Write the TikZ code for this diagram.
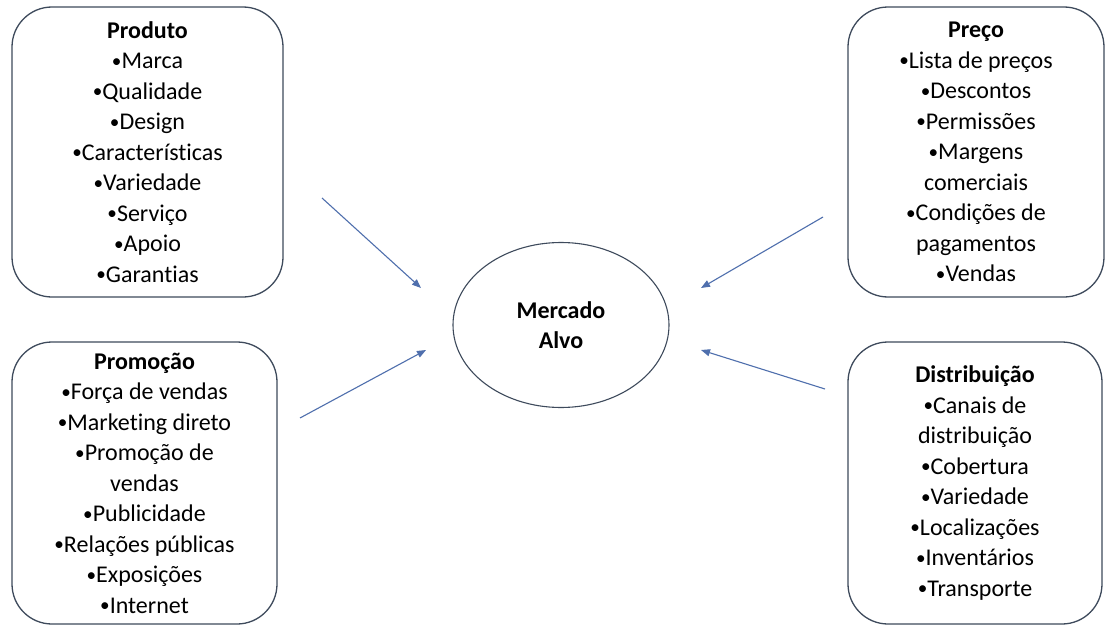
\documentclass[tikz,border=0pt]{standalone}
\usepackage{fontspec}
\setmainfont{Carlito}[Ligatures=NoCommon]
\usetikzlibrary{arrows.meta,shapes.geometric}
\definecolor{boxline}{HTML}{3E4A5C}
\definecolor{arrowblue}{HTML}{4F6FAD}
% small list bullet
\newcommand{\bul}{\raisebox{0.12ex}{\scalebox{0.8}{•}}}
\begin{document}
\begin{tikzpicture}[x=1pt,y=-1pt,
  mixbox/.style={draw=boxline, line width=1.3pt, rounded corners=40pt,
    align=center, inner sep=0pt, text=black,
    font=\fontsize{24}{30.5}\selectfont},
  target/.style={draw=boxline, line width=1.1pt, ellipse, inner sep=0pt,
    minimum width=216pt, minimum height=165pt, align=center,
    font=\fontsize{24}{30}\selectfont\bfseries},
  feed/.style={draw=arrowblue, line width=1.1pt,
    -{Triangle[length=9pt,width=7pt]}}]
  % canvas
  \fill[white] (0,0) rectangle (1106,626);
  \useasboundingbox (0,0) rectangle (1106,626);

  % the four marketing-mix boxes
  \node[mixbox, minimum width=271pt, minimum height=290pt] (prod) at (147.5,152)
    {\textbf{Produto}\\\bul Marca\\\bul Qualidade\\\bul Design\\\bul Características\\\bul Variedade\\\bul Serviço\\\bul Apoio\\\bul Garantias};
  \node[mixbox, minimum width=256pt, minimum height=290pt] (preco) at (976,152)
    {\textbf{Preço}\\\bul Lista de preços\\\bul Descontos\\\bul Permissões\\\bul Margens\\comerciais\\\bul Condições de\\pagamentos\\\bul Vendas};
  \node[mixbox, minimum width=265pt, minimum height=282pt] (promo) at (144.5,483)
    {\textbf{Promoção}\\\bul Força de vendas\\\bul Marketing direto\\\bul Promoção de\\vendas\\\bul Publicidade\\\bul Relações públicas\\\bul Exposições\\\bul Internet};
  \node[mixbox, minimum width=254pt, minimum height=282pt] (dist) at (975,483)
    {\textbf{Distribuição}\\\bul Canais de\\distribuição\\\bul Cobertura\\\bul Variedade\\\bul Localizações\\\bul Inventários\\\bul Transporte};

  % target market
  \node[target] (alvo) at (561,325) {Mercado\\Alvo};

  % arrow end points
  \coordinate (a1s) at (322,198);  \coordinate (a1e) at (421,288);
  \coordinate (a2s) at (300,418);  \coordinate (a2e) at (426,350);
  \coordinate (a3s) at (823,217);  \coordinate (a3e) at (701,288);
  \coordinate (a4s) at (825,389);  \coordinate (a4e) at (701,350);

  \draw[feed] (a1s) -- (a1e);
  \draw[feed] (a2s) -- (a2e);
  \draw[feed] (a3s) -- (a3e);
  \draw[feed] (a4s) -- (a4e);
\end{tikzpicture}
\end{document}
